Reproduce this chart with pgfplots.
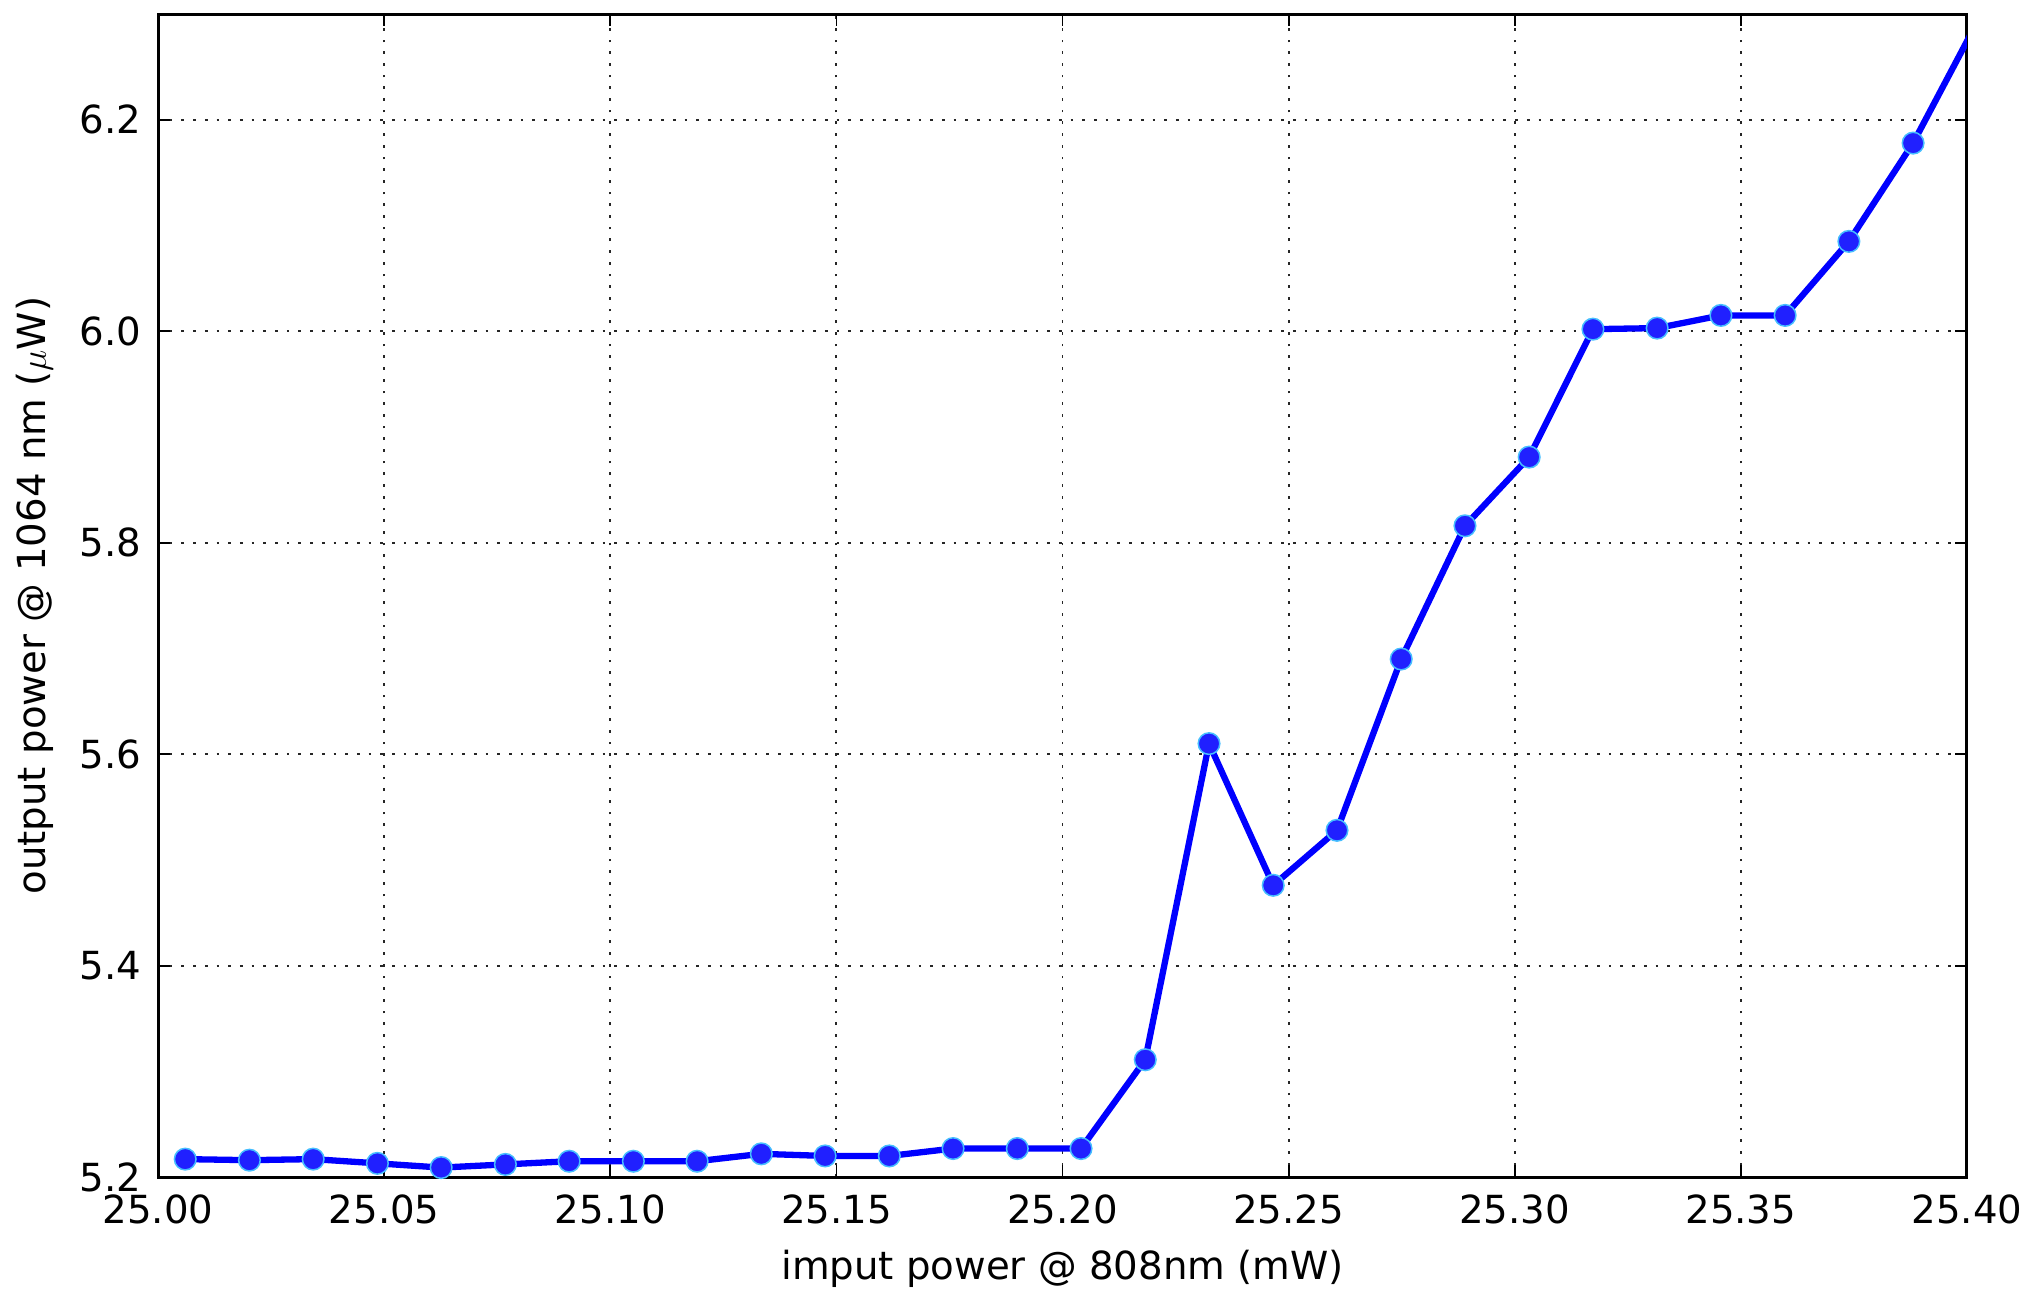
\documentclass[border=0pt]{standalone}
\usepackage{fontspec}
\setmainfont{DejaVu Sans}
\usepackage{pgfplots}
\pgfplotsset{compat=1.18}

\definecolor{linecol}{RGB}{0,0,255}
\definecolor{markfill}{RGB}{32,32,255}
\definecolor{markedge}{RGB}{70,190,255}

\begin{document}
\begin{tikzpicture}
\begin{axis}[
  name=ax,
  scale only axis,
  width=603pt, height=387.7pt,
  xmin=25.0, xmax=25.4,
  ymin=5.2, ymax=6.3,
  xtick={25.00,25.05,...,25.41},
  ytick={5.2,5.4,...,6.21},
  font=\fontsize{12.9}{15}\selectfont,
  /pgf/number format/assume math mode=true,
  xticklabel style={yshift=-2.5pt, /pgf/number format/.cd, fixed, fixed zerofill, precision=2},
  yticklabel style={xshift=-2.0pt, /pgf/number format/.cd, fixed, fixed zerofill, precision=1},
  tick align=inside,
  major tick length=4pt,
  minor tick num=0,
  tick style={black, line width=0.6pt},
  axis line style={black, line width=1pt},
  grid=major,
  major grid style={black!85, line width=0.65pt, dash pattern=on 0.9pt off 3pt},
  xlabel={imput power @ 808nm (mW)},
  ylabel={output power @ 1064 nm ($\mu$W)},
  every axis x label/.style={at={(axis description cs:0.5,-0.079)}, anchor=center},
  every axis y label/.style={at={(axis description cs:-0.068,0.5)}, rotate=90, anchor=center},
]
\addplot[
  color=linecol, line width=2.1pt,
  mark=*, mark size=3.6pt,
  mark options={fill=markfill, draw=markedge, line width=0.5pt},
] coordinates {
  (25.0060,5.217) (25.0202,5.216) (25.0343,5.217) (25.0485,5.213)
  (25.0626,5.209) (25.0768,5.212) (25.0909,5.215) (25.1051,5.215)
  (25.1192,5.215) (25.1334,5.222) (25.1475,5.220) (25.1617,5.220)
  (25.1758,5.227) (25.1900,5.227) (25.2041,5.227) (25.2183,5.311)
  (25.2324,5.610) (25.2466,5.476) (25.2607,5.528) (25.2749,5.690)
  (25.2890,5.816) (25.3032,5.881) (25.3173,6.002) (25.3315,6.003)
  (25.3456,6.015) (25.3598,6.015) (25.3739,6.085) (25.3881,6.178)
  (25.4022,6.292)
};
\end{axis}
\pgfresetboundingbox
\useasboundingbox ([shift={(-52.7pt,-38.7pt)}]ax.south west) rectangle ([shift={(17.7pt,4.7pt)}]ax.north east);
\end{tikzpicture}
\end{document}
